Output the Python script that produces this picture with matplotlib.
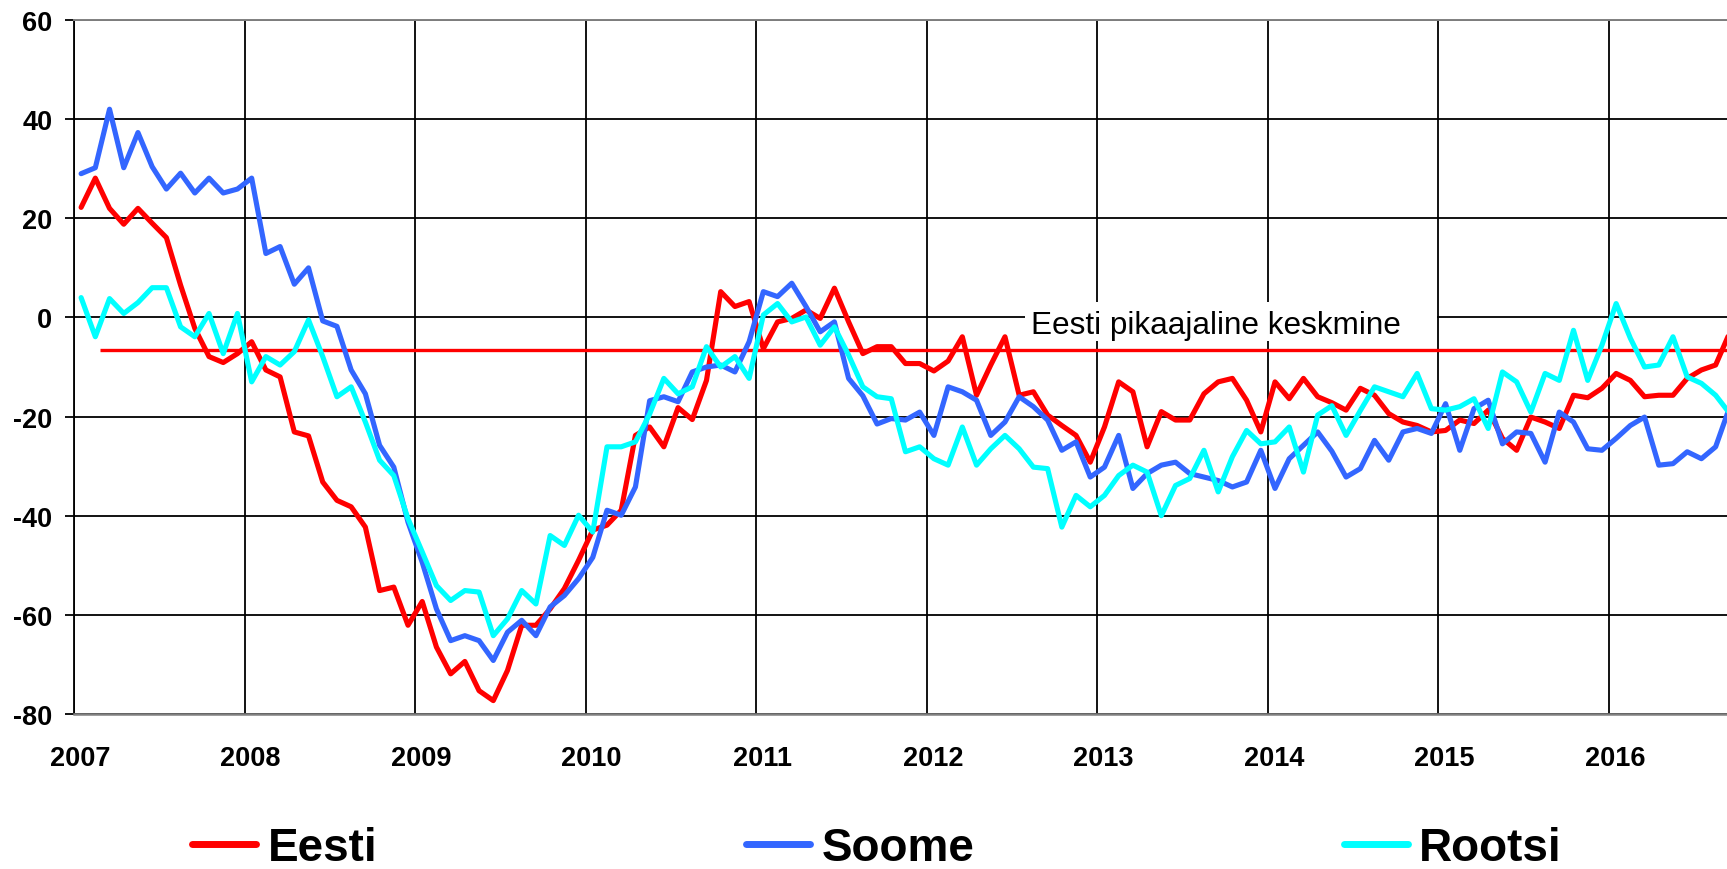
import numpy as np
import matplotlib
matplotlib.use("Agg")
import matplotlib.pyplot as plt
import matplotlib.transforms as mtransforms
from matplotlib.lines import Line2D
from matplotlib.patches import Rectangle

# DATA (monthly, Jan 2007 ... Sep 2016)
##############################################################################
years = ["2007", "2008", "2009", "2010", "2011", "2012", "2013", "2014", "2015", "2016"]

eesti = [22.2, 28.1, 22.0, 18.8, 22.0, 19.0, 16.1, 6.5, -2.2, -7.9, -9.1, -7.3,
         -4.9, -10.6, -12.0, -23.1, -23.9, -33.2, -36.9, -38.2, -42.3, -55.1, -54.4, -62.1,
         -57.3, -66.5, -71.9, -69.4, -75.3, -77.3, -71.2, -62.1, -62.1, -58.8, -54.7, -49.0,
         -42.9, -41.9, -38.9, -23.8, -22.1, -26.1, -18.2, -20.6, -12.7, 5.2, 2.2, 3.2,
         -6.3, -0.9, -0.2, 1.5, -0.2, 5.9, -0.9, -7.3, -5.9, -5.9, -9.3, -9.3,
         -10.8, -8.8, -3.9, -15.7, -9.6, -3.9, -15.7, -15.0, -19.7, -21.8, -23.8, -29.2,
         -22.1, -13.0, -15.0, -26.1, -19.0, -20.7, -20.7, -15.4, -13.0, -12.3, -16.7, -23.1,
         -13.0, -16.4, -12.3, -16.0, -17.2, -18.7, -14.3, -15.7, -19.4, -21.1, -21.8, -23.1,
         -22.8, -20.7, -21.4, -18.7, -24.4, -26.8, -20.1, -21.1, -22.4, -15.7, -16.2, -14.3,
         -11.3, -12.7, -16.0, -15.7, -15.7, -12.3, -10.6, -9.6, -3.0]

soome = [29.0, 30.2, 42.0, 30.2, 37.3, 30.4, 25.9, 29.1, 25.1, 28.1, 25.1, 25.9,
         28.1, 12.9, 14.3, 6.7, 10.0, -0.7, -1.8, -10.6, -15.4, -25.8, -30.2, -41.3,
         -49.4, -58.8, -65.2, -64.2, -65.2, -69.2, -63.5, -61.1, -64.2, -58.4, -56.1, -52.7,
         -48.4, -38.9, -39.9, -34.2, -16.8, -16.0, -17.0, -11.0, -10.0, -9.6, -11.0, -4.9,
         5.2, 4.2, 6.9, 2.2, -2.9, -0.9, -12.3, -15.8, -21.5, -20.4, -20.7, -19.1,
         -23.8, -14.0, -15.0, -16.7, -23.8, -21.1, -16.0, -18.0, -20.7, -26.8, -25.1, -32.2,
         -30.2, -23.8, -34.5, -31.5, -29.8, -29.2, -31.5, -32.2, -32.9, -34.2, -33.2, -26.8,
         -34.5, -28.5, -25.8, -23.1, -27.0, -32.2, -30.5, -24.8, -28.8, -23.1, -22.4, -23.4,
         -17.4, -26.8, -18.4, -16.7, -25.5, -23.1, -23.4, -29.2, -19.1, -21.1, -26.5, -26.8,
         -24.4, -21.8, -20.1, -29.8, -29.5, -27.1, -28.5, -26.1, -18.0]

rootsi = [4.0, -3.9, 3.8, 0.8, 3.0, 6.0, 6.0, -1.9, -3.9, 0.8, -7.3, 0.8,
          -13.0, -7.9, -9.6, -6.9, -0.5, -7.9, -16.0, -14.0, -21.1, -28.8, -31.9, -40.6,
          -47.3, -54.1, -57.1, -55.1, -55.4, -64.2, -60.8, -55.1, -57.8, -44.0, -46.0, -39.9,
          -43.3, -26.1, -26.1, -25.1, -19.5, -12.3, -15.4, -14.0, -5.9, -10.0, -7.9, -12.3,
          0.5, 2.8, -0.9, 0.1, -5.6, -1.9, -7.6, -14.0, -16.0, -16.4, -27.1, -26.1,
          -28.5, -29.8, -22.1, -29.8, -26.5, -23.8, -26.5, -30.2, -30.5, -42.3, -35.9, -38.2,
          -35.9, -31.9, -29.8, -31.2, -40.0, -33.9, -32.5, -26.8, -35.2, -28.1, -22.8, -25.5,
          -25.1, -22.1, -31.2, -19.7, -17.8, -23.8, -18.8, -14.0, -15.0, -16.0, -11.3, -18.4,
          -18.7, -18.0, -16.4, -22.4, -11.0, -13.0, -19.1, -11.3, -12.7, -2.6, -12.7, -5.6,
          2.8, -4.2, -10.0, -9.6, -3.9, -12.0, -13.3, -15.7, -19.4]

eesti_keskmine = -6.6
keskmine_label = "Eesti pikaajaline keskmine"

# STYLE
##############################################################################
RED = "#FF0000"
BLUE = "#3366FF"
CYAN = "#00FFFF"
W, H = 1727, 870

plt.rcParams["font.family"] = ["Liberation Sans", "DejaVu Sans"]
plt.rcParams["axes.unicode_minus"] = False

fig = plt.figure(figsize=(W / 100, H / 100), dpi=100)
fig.patch.set_facecolor("white")
ax = fig.add_axes([74 / W, 1 - 715 / H, (W - 74) / W, (715 - 21) / H])

x = np.arange(len(eesti))
line_kw = dict(lw=3.7, solid_joinstyle="round", solid_capstyle="round", zorder=3)
ax.plot(x, eesti, color=RED, **line_kw)
ax.plot(x, soome, color=BLUE, **line_kw)
ax.plot(x, rootsi, color=CYAN, **line_kw)

# long-term average of Estonia + label box
ax.hlines(eesti_keskmine, 1.3, 120, color=RED, lw=2.4, zorder=2.5)
ax.add_patch(Rectangle((66.4, -4.8), 29.0, 8.0, facecolor="white", edgecolor="none", zorder=1))
ax.text(66.8, -3.2, keskmine_label, fontsize=22.7, va="baseline", ha="left", zorder=4)

# axes
ax.set_xlim(-0.5, 115.8)
ax.set_ylim(-80, 60)
ax.set_yticks(np.arange(-80, 61, 20))
ax.set_xticks([12 * i - 0.5 for i in range(len(years))])
ax.set_xticklabels(years)
ax.set_axisbelow(True)
ax.grid(True, color="black", lw=1.3)

ax.tick_params(axis="y", length=6.5, width=1.3, pad=9, labelsize=19.5)
ax.tick_params(axis="x", length=0, pad=22, labelsize=19.5)
for lab in ax.get_xticklabels() + ax.get_yticklabels():
    lab.set_fontweight("bold")
shift = mtransforms.ScaledTranslation(6 / 100, 0, fig.dpi_scale_trans)
for lab in ax.get_xticklabels():
    lab.set_transform(lab.get_transform() + shift)

ax.spines["right"].set_visible(False)
ax.spines["left"].set_color("black")
ax.spines["left"].set_linewidth(1.3)
ax.spines["top"].set_color("#808080")
ax.spines["top"].set_linewidth(1.4)
ax.spines["bottom"].set_color("#808080")
ax.spines["bottom"].set_linewidth(1.8)

# legend
handles = [Line2D([], [], color=c, lw=5, solid_capstyle="round") for c in (RED, BLUE, CYAN)]
fig.legend(handles, ["Eesti", "Soome", "Rootsi"], ncol=3, loc="center left",
           bbox_to_anchor=(192 / W, 1 - 849 / H), frameon=False,
           prop={"size": 33, "weight": "bold"}, handlelength=1.4, handletextpad=0.25,
           columnspacing=8.05, borderpad=0, borderaxespad=0)

fig.savefig("out.png", dpi=100, facecolor="white")
